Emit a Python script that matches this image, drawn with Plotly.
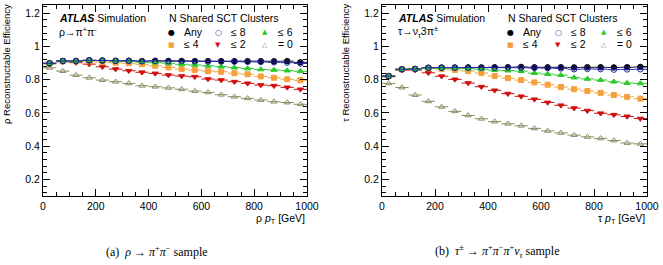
import plotly.graph_objects as go

# ---------------- data ----------------
pt_bins = [25, 75, 125, 175, 225, 275, 325, 375, 425, 475,
           525, 575, 625, 675, 725, 775, 825, 875, 925, 975]
bin_half = [25] * 20

series_names = ["Any", "≤ 8", "≤ 6", "≤ 4", "≤ 2", "= 0"]

# rho -> pi+ pi- sample
rho_any = [0.899, 0.913, 0.913, 0.917, 0.916, 0.914, 0.914, 0.912, 0.914, 0.913,
           0.913, 0.912, 0.912, 0.912, 0.912, 0.912, 0.912, 0.911, 0.912, 0.905]
rho_le8 = [0.899, 0.913, 0.913, 0.917, 0.916, 0.914, 0.914, 0.912, 0.913, 0.912,
           0.912, 0.911, 0.910, 0.910, 0.909, 0.908, 0.907, 0.905, 0.903, 0.898]
rho_le6 = [0.899, 0.913, 0.913, 0.916, 0.915, 0.912, 0.910, 0.906, 0.903, 0.899,
           0.893, 0.889, 0.884, 0.879, 0.873, 0.868, 0.862, 0.859, 0.855, 0.851]
rho_le4 = [0.899, 0.912, 0.911, 0.911, 0.906, 0.902, 0.899, 0.893, 0.884, 0.874,
           0.864, 0.858, 0.852, 0.848, 0.839, 0.833, 0.820, 0.812, 0.803, 0.797]
rho_le2 = [0.896, 0.908, 0.903, 0.894, 0.878, 0.864, 0.854, 0.845, 0.838, 0.828,
           0.822, 0.818, 0.804, 0.798, 0.788, 0.778, 0.768, 0.764, 0.754, 0.742]
rho_eq0 = [0.872, 0.852, 0.828, 0.812, 0.798, 0.788, 0.778, 0.764, 0.758, 0.751,
           0.743, 0.732, 0.724, 0.710, 0.698, 0.688, 0.678, 0.668, 0.663, 0.652]

# tau -> nu 3pi sample
tau_any = [0.822, 0.863, 0.865, 0.872, 0.873, 0.873, 0.874, 0.874, 0.875, 0.875,
           0.877, 0.875, 0.875, 0.875, 0.874, 0.875, 0.875, 0.874, 0.875, 0.877]
tau_le8 = [0.822, 0.863, 0.865, 0.872, 0.873, 0.873, 0.873, 0.873, 0.873, 0.873,
           0.872, 0.871, 0.870, 0.868, 0.863, 0.865, 0.864, 0.861, 0.862, 0.863]
tau_le6 = [0.822, 0.863, 0.865, 0.871, 0.870, 0.869, 0.866, 0.863, 0.858, 0.855,
           0.852, 0.840, 0.834, 0.828, 0.813, 0.805, 0.798, 0.788, 0.780, 0.778]
tau_le4 = [0.822, 0.862, 0.864, 0.869, 0.864, 0.859, 0.852, 0.840, 0.822, 0.810,
           0.798, 0.784, 0.770, 0.756, 0.743, 0.732, 0.721, 0.708, 0.697, 0.686]
tau_le2 = [0.818, 0.858, 0.858, 0.842, 0.821, 0.802, 0.780, 0.758, 0.736, 0.716,
           0.700, 0.682, 0.663, 0.646, 0.629, 0.614, 0.598, 0.589, 0.579, 0.566]
tau_eq0 = [0.778, 0.753, 0.708, 0.670, 0.637, 0.610, 0.585, 0.565, 0.548, 0.535,
           0.523, 0.507, 0.492, 0.480, 0.467, 0.456, 0.447, 0.434, 0.419, 0.414]

x_ticks = [0, 200, 400, 600, 800, 1000]

# ---------------- styles ----------------
colors = ["#000000", "#2424a8", "#2dc82d", "#f5a03c", "#d01010", "#8c8c64"]
symbols = ["circle", "circle-open", "triangle-up", "square", "triangle-down", "triangle-up-open"]
key_glyphs = ["●", "○", "▲", "■", "▼", "△"]
key_sizes = [8, 8, 7, 7, 7, 7]
sizes = [5.5, 5.5, 5.5, 5, 5.5, 5.5]
line_colors = ["#101030", "#2424a8", "#2dc82d", "#f5a03c", "#d01010", "#8c8c64"]

# geometry in pixels
W, H = 663, 265
ML, MR, MT, MB = 43, 16, 5, 69
PW = W - ML - MR
PH = H - MT - MB


def px(x):
    return (x - ML) / PW


def py(y):
    return (H - MB - y) / PH


fig = go.Figure()

panels = [
    ("x", "y", [rho_any, rho_le8, rho_le6, rho_le4, rho_le2, rho_eq0]),
    ("x2", "y2", [tau_any, tau_le8, tau_le6, tau_le4, tau_le2, tau_eq0]),
]

draw_order = [5, 4, 3, 0, 2, 1]
for xa, ya, sers in panels:
    for i in draw_order:
        fig.add_trace(go.Scatter(
            x=pt_bins, y=sers[i], mode="markers", name=series_names[i],
            xaxis=xa, yaxis=ya, showlegend=False,
            marker=dict(symbol=symbols[i], size=sizes[i], color=colors[i],
                        line=dict(color=colors[i], width=1)),
            error_x=dict(type="data", array=bin_half, color=line_colors[i],
                         thickness=1, width=0),
        ))

axis_common = dict(
    showline=True, linecolor="black", linewidth=1, mirror="ticks",
    ticks="inside", ticklen=7, tickcolor="black", tickwidth=1,
    showgrid=False, zeroline=False,
    tickfont=dict(family="Liberation Sans", size=10.5, color="black"),
)

left_dom = [0, px(307)]
right_dom = [px(382), 1]

fig.update_layout(
    width=W, height=H,
    margin=dict(l=ML, r=MR, t=MT, b=MB, autoexpand=False),
    paper_bgcolor="white", plot_bgcolor="white",
    xaxis=dict(domain=left_dom, range=[0, 1000], tickvals=x_ticks,
               minor=dict(dtick=50, ticklen=4, ticks="inside", tickcolor="black"),
               anchor="y", **axis_common),
    yaxis=dict(domain=[0, 1], range=[0.1, 1.25], dtick=0.2, tick0=0,
               minor=dict(dtick=0.04, tick0=0, ticklen=4, ticks="inside", tickcolor="black"),
               anchor="x", **axis_common),
    xaxis2=dict(domain=right_dom, range=[0, 1000], tickvals=x_ticks,
                minor=dict(dtick=50, ticklen=4, ticks="inside", tickcolor="black"),
                anchor="y2", **axis_common),
    yaxis2=dict(domain=[0, 1], range=[0.1, 1.25], dtick=0.2, tick0=0,
                minor=dict(dtick=0.04, tick0=0, ticklen=4, ticks="inside", tickcolor="black"),
                anchor="x2", **axis_common),
    showlegend=False,
)

ann_font = dict(family="Liberation Sans", size=10.5, color="black")
annotations = [
    dict(x=px(57), y=py(18), text="<b><i>ATLAS</i></b> Simulation", xanchor="left", yanchor="middle"),
    dict(x=px(167), y=py(18), text="N Shared SCT Clusters", xanchor="left", yanchor="middle"),
    dict(x=px(57), y=py(32), text="ρ→π<sup>+</sup>π<sup>-</sup>", xanchor="left", yanchor="middle"),
    dict(x=px(396), y=py(18), text="<b><i>ATLAS</i></b> Simulation", xanchor="left", yanchor="middle"),
    dict(x=px(506), y=py(18), text="N Shared SCT Clusters", xanchor="left", yanchor="middle"),
    dict(x=px(396), y=py(32), text="τ→ν<sub>τ</sub>3π<sup>±</sup>", xanchor="left", yanchor="middle"),
    dict(x=px(307), y=py(219), text="ρ <i>p</i><sub>T</sub> [GeV]", xanchor="right", yanchor="middle"),
    dict(x=px(647), y=py(219), text="τ <i>p</i><sub>T</sub> [GeV]", xanchor="right", yanchor="middle"),
    dict(x=px(7), y=py(2), text="ρ Reconstructable Efficiency", textangle=-90,
         xanchor="center", yanchor="top", font=dict(family="Liberation Sans", size=9.5, color="black")),
    dict(x=px(346), y=py(2), text="τ Reconstructable Efficiency", textangle=-90,
         xanchor="center", yanchor="top", font=dict(family="Liberation Sans", size=9.5, color="black")),
    dict(x=px(157), y=py(251), text="(a)  <i>ρ</i> → <i>π</i><sup>+</sup><i>π</i><sup>−</sup> sample",
         xanchor="center", yanchor="middle", font=dict(family="Liberation Serif", size=12, color="black")),
    dict(x=px(497), y=py(251),
         text="(b)  <i>τ</i><sup>±</sup> → <i>π</i><sup>+</sup><i>π</i><sup>−</sup><i>π</i><sup>+</sup><i>ν</i><sub><i>τ</i></sub> sample",
         xanchor="center", yanchor="middle", font=dict(family="Liberation Serif", size=12, color="black")),
]

# legend keys (symbol + label) for both panels
key_cols_left = [171, 218, 265]
key_cols_right = [510, 558, 604]
key_rows = [32, 44]
for cols in (key_cols_left, key_cols_right):
    for i, name in enumerate(series_names):
        cx = cols[i % 3]
        cy = key_rows[i // 3]
        annotations.append(dict(x=px(cx), y=py(cy + 0.5), text=key_glyphs[i], xanchor="center",
                                yanchor="middle",
                                font=dict(family="DejaVu Sans", size=key_sizes[i], color=colors[i])))
        annotations.append(dict(x=px(cx + 11), y=py(cy), text=name, xanchor="left",
                                yanchor="middle"))

for a in annotations:
    a.setdefault("font", ann_font)
    a.update(xref="paper", yref="paper", showarrow=False)
fig.update_layout(annotations=annotations)

fig.write_html("out.html")
